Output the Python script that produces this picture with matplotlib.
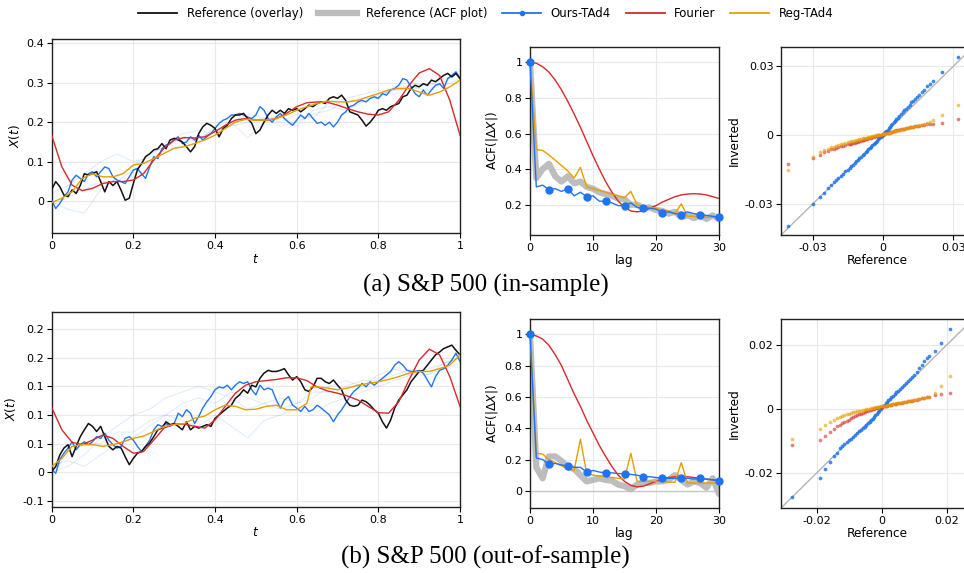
import numpy as np
import matplotlib.pyplot as plt
from matplotlib.lines import Line2D

# ---------------- data ----------------
t_fine = np.linspace(0, 1, 101)
t_coarse = np.linspace(0, 1, 41)
t_faint = np.linspace(0, 1, 26)

# (a) in-sample paths
ref_a = [0.030, 0.050, 0.037, 0.016, 0.012, 0.029, 0.020, 0.040, 0.070, 0.066,
         0.070, 0.075, 0.050, 0.024, 0.050, 0.040, 0.050, 0.028, 0.003, 0.008,
         0.045, 0.080, 0.095, 0.113, 0.120, 0.130, 0.133, 0.146, 0.133, 0.155,
         0.159, 0.155, 0.150, 0.138, 0.125, 0.138, 0.171, 0.188, 0.197, 0.192,
         0.184, 0.163, 0.184, 0.192, 0.209, 0.218, 0.218, 0.222, 0.209, 0.197,
         0.171, 0.180, 0.200, 0.218, 0.230, 0.222, 0.230, 0.222, 0.234, 0.230,
         0.234, 0.226, 0.234, 0.243, 0.239, 0.247, 0.251, 0.247, 0.260, 0.264,
         0.260, 0.268, 0.255, 0.226, 0.222, 0.218, 0.205, 0.190, 0.200, 0.213,
         0.230, 0.234, 0.230, 0.239, 0.243, 0.247, 0.264, 0.268, 0.285, 0.293,
         0.289, 0.297, 0.293, 0.306, 0.302, 0.310, 0.318, 0.323, 0.314, 0.323,
         0.310]
ours_a = [0.003, -0.018, -0.005, 0.012, 0.024, 0.054, 0.066, 0.058, 0.050, 0.070,
          0.075, 0.062, 0.075, 0.087, 0.083, 0.062, 0.054, 0.050, 0.045, 0.062,
          0.079, 0.083, 0.070, 0.058, 0.087, 0.113, 0.108, 0.133, 0.142, 0.146,
          0.155, 0.163, 0.146, 0.150, 0.163, 0.155, 0.167, 0.155, 0.163, 0.171,
          0.184, 0.197, 0.205, 0.209, 0.218, 0.218, 0.222, 0.218, 0.213, 0.209,
          0.218, 0.239, 0.230, 0.209, 0.200, 0.213, 0.222, 0.209, 0.200, 0.192,
          0.205, 0.218, 0.209, 0.222, 0.209, 0.197, 0.200, 0.192, 0.200, 0.188,
          0.200, 0.218, 0.226, 0.239, 0.243, 0.251, 0.255, 0.251, 0.260, 0.264,
          0.260, 0.272, 0.268, 0.281, 0.285, 0.293, 0.310, 0.306, 0.289, 0.272,
          0.264, 0.281, 0.268, 0.281, 0.293, 0.297, 0.285, 0.310, 0.318, 0.327,
          0.310]
fourier_a = [0.167, 0.087, 0.041, 0.027, 0.033, 0.045, 0.050, 0.050, 0.054, 0.070,
             0.104, 0.134, 0.155, 0.161, 0.160, 0.163, 0.176, 0.192, 0.205, 0.209,
             0.205, 0.205, 0.209, 0.222, 0.239, 0.249, 0.251, 0.250, 0.243, 0.234,
             0.226, 0.220, 0.218, 0.226, 0.255, 0.293, 0.324, 0.335, 0.318, 0.255,
             0.167]
reg_a = [-0.003, 0.008, 0.024, 0.058, 0.070, 0.062, 0.062, 0.070, 0.092, 0.096,
         0.108, 0.121, 0.134, 0.138, 0.146, 0.155, 0.167, 0.184, 0.200, 0.207,
         0.205, 0.205, 0.209, 0.218, 0.230, 0.239, 0.247, 0.253, 0.251, 0.251,
         0.255, 0.264, 0.272, 0.281, 0.285, 0.285, 0.276, 0.268, 0.276, 0.289,
         0.306]
faint_a = [
    [0.00, -0.02, -0.03, 0.03, 0.06, 0.09, 0.12, 0.14, 0.16, 0.15, 0.19, 0.20, 0.16,
     0.20, 0.22, 0.19, 0.23, 0.24, 0.23, 0.25, 0.27, 0.28, 0.29, 0.28, 0.30, 0.33],
    [0.02, 0.04, 0.07, 0.10, 0.12, 0.10, 0.11, 0.15, 0.17, 0.18, 0.17, 0.20, 0.22,
     0.21, 0.20, 0.22, 0.21, 0.25, 0.26, 0.27, 0.28, 0.27, 0.30, 0.29, 0.31, 0.32],
    [-0.01, 0.01, 0.03, 0.05, 0.05, 0.08, 0.10, 0.13, 0.14, 0.16, 0.18, 0.19, 0.20,
     0.21, 0.19, 0.20, 0.22, 0.23, 0.25, 0.26, 0.26, 0.29, 0.28, 0.30, 0.29, 0.31],
]

# (b) out-of-sample paths
ref_b = [0.001, 0.010, 0.030, 0.042, 0.048, 0.027, 0.045, 0.062, 0.074, 0.085,
         0.080, 0.071, 0.080, 0.062, 0.045, 0.039, 0.045, 0.042, 0.027, 0.013,
         0.024, 0.033, 0.036, 0.045, 0.051, 0.062, 0.074, 0.077, 0.088, 0.083,
         0.085, 0.080, 0.074, 0.088, 0.074, 0.080, 0.077, 0.080, 0.083, 0.080,
         0.094, 0.100, 0.106, 0.112, 0.117, 0.129, 0.135, 0.144, 0.138, 0.152,
         0.149, 0.164, 0.173, 0.178, 0.176, 0.176, 0.178, 0.181, 0.170, 0.161,
         0.167, 0.158, 0.144, 0.141, 0.149, 0.164, 0.164, 0.158, 0.155, 0.161,
         0.152, 0.144, 0.126, 0.117, 0.115, 0.117, 0.126, 0.123, 0.117, 0.109,
         0.103, 0.088, 0.077, 0.091, 0.112, 0.126, 0.135, 0.144, 0.158, 0.167,
         0.176, 0.178, 0.187, 0.196, 0.205, 0.210, 0.216, 0.219, 0.222, 0.213,
         0.205]
ours_b = [0.004, -0.002, 0.022, 0.033, 0.042, 0.053, 0.039, 0.048, 0.053, 0.048,
          0.053, 0.062, 0.059, 0.068, 0.056, 0.048, 0.042, 0.045, 0.059, 0.062,
          0.056, 0.045, 0.036, 0.045, 0.056, 0.074, 0.083, 0.080, 0.085, 0.080,
          0.085, 0.103, 0.097, 0.109, 0.103, 0.085, 0.097, 0.112, 0.123, 0.132,
          0.144, 0.149, 0.147, 0.152, 0.144, 0.152, 0.158, 0.155, 0.158, 0.144,
          0.135, 0.152, 0.144, 0.147, 0.144, 0.126, 0.112, 0.126, 0.132, 0.117,
          0.112, 0.106, 0.115, 0.106, 0.109, 0.117, 0.112, 0.106, 0.100, 0.088,
          0.100, 0.109, 0.120, 0.132, 0.141, 0.147, 0.155, 0.149, 0.158, 0.152,
          0.158, 0.164, 0.170, 0.176, 0.187, 0.193, 0.187, 0.178, 0.176, 0.176,
          0.178, 0.173, 0.161, 0.149, 0.167, 0.178, 0.181, 0.187, 0.196, 0.208,
          0.193]
fourier_b = [0.113, 0.074, 0.052, 0.048, 0.056, 0.065, 0.059, 0.045, 0.033, 0.036,
             0.056, 0.077, 0.084, 0.084, 0.080, 0.077, 0.091, 0.115, 0.138, 0.152,
             0.158, 0.160, 0.162, 0.165, 0.165, 0.160, 0.149, 0.142, 0.138, 0.133,
             0.126, 0.115, 0.104, 0.103, 0.123, 0.161, 0.196, 0.215, 0.205, 0.167,
             0.115]
reg_b_t = [0.0, 0.025, 0.05, 0.075, 0.1, 0.125, 0.15, 0.175, 0.2, 0.225,
           0.25, 0.275, 0.3, 0.325, 0.35, 0.375, 0.4, 0.425, 0.45, 0.475,
           0.5, 0.525, 0.55, 0.575, 0.6, 0.625, 0.635, 0.65, 0.675, 0.7,
           0.725, 0.75, 0.775, 0.8, 0.825, 0.85, 0.875, 0.9, 0.925, 0.95,
           0.975, 1.0]
reg_b = [0.010, 0.024, 0.045, 0.048, 0.048, 0.045, 0.048, 0.053, 0.059, 0.063,
         0.071, 0.080, 0.083, 0.085, 0.094, 0.098, 0.109, 0.117, 0.115, 0.109,
         0.110, 0.115, 0.117, 0.109, 0.109, 0.120, 0.149, 0.149, 0.147, 0.144,
         0.147, 0.152, 0.155, 0.158, 0.162, 0.167, 0.173, 0.176, 0.176, 0.181,
         0.187, 0.205]
faint_b = [
    [0.00, 0.01, 0.03, 0.06, 0.08, 0.10, 0.11, 0.13, 0.14, 0.15, 0.14, 0.13, 0.11,
     0.12, 0.13, 0.12, 0.13, 0.15, 0.16, 0.15, 0.17, 0.18, 0.17, 0.18, 0.19, 0.20],
    [0.01, 0.02, 0.01, 0.03, 0.05, 0.06, 0.08, 0.10, 0.09, 0.08, 0.10, 0.08, 0.06,
     0.09, 0.10, 0.11, 0.10, 0.12, 0.13, 0.14, 0.15, 0.16, 0.17, 0.17, 0.18, 0.19],
    [0.00, 0.03, 0.05, 0.05, 0.07, 0.07, 0.09, 0.10, 0.12, 0.13, 0.12, 0.14, 0.13,
     0.12, 0.11, 0.12, 0.14, 0.14, 0.15, 0.16, 0.16, 0.17, 0.18, 0.17, 0.19, 0.20],
]

# ACF of |dX|, lags 0..30
lags = np.arange(31)
acf_ref_a = [1.0, 0.35, 0.40, 0.43, 0.36, 0.33, 0.36, 0.32, 0.33, 0.30, 0.29,
             0.27, 0.26, 0.25, 0.235, 0.23, 0.20, 0.20, 0.18, 0.185, 0.17,
             0.165, 0.15, 0.16, 0.13, 0.14, 0.125, 0.14, 0.12, 0.14, 0.12]
acf_ours_a = [1.0, 0.30, 0.31, 0.285, 0.29, 0.275, 0.29, 0.25, 0.27, 0.245, 0.25,
              0.22, 0.22, 0.21, 0.195, 0.195, 0.21, 0.185, 0.18, 0.18, 0.175,
              0.155, 0.16, 0.15, 0.145, 0.16, 0.15, 0.145, 0.14, 0.135, 0.13]
acf_fourier_a = [1.0, 0.995, 0.975, 0.945, 0.90, 0.845, 0.78, 0.71, 0.635, 0.555, 0.475,
                 0.40, 0.33, 0.27, 0.22, 0.185, 0.165, 0.16, 0.165, 0.18, 0.195,
                 0.215, 0.23, 0.245, 0.255, 0.26, 0.262, 0.26, 0.255, 0.245, 0.235]
acf_reg_a = [1.0, 0.51, 0.505, 0.48, 0.45, 0.42, 0.39, 0.35, 0.41, 0.30, 0.29,
             0.28, 0.27, 0.26, 0.25, 0.24, 0.275, 0.20, 0.19, 0.185, 0.18,
             0.17, 0.165, 0.15, 0.205, 0.135, 0.135, 0.13, 0.13, 0.13, 0.125]

acf_ref_b = [1.0, 0.15, 0.08, 0.22, 0.22, 0.19, 0.15, 0.14, 0.10, 0.06, 0.07,
             0.08, 0.07, 0.065, 0.04, 0.03, 0.01, 0.04, 0.055, 0.05, 0.06,
             0.06, 0.07, 0.10, 0.07, 0.04, 0.06, 0.05, 0.02, 0.08, -0.02]
acf_ours_b = [1.0, 0.21, 0.20, 0.17, 0.175, 0.165, 0.16, 0.15, 0.15, 0.12, 0.13,
              0.12, 0.115, 0.115, 0.11, 0.11, 0.105, 0.10, 0.09, 0.09, 0.085,
              0.08, 0.08, 0.08, 0.08, 0.08, 0.075, 0.08, 0.075, 0.07, 0.06]
acf_fourier_b = [1.0, 0.99, 0.97, 0.93, 0.87, 0.80, 0.71, 0.62, 0.54, 0.45, 0.37,
                 0.29, 0.22, 0.155, 0.10, 0.06, 0.035, 0.025, 0.03, 0.045, 0.06,
                 0.075, 0.085, 0.09, 0.093, 0.09, 0.085, 0.08, 0.075, 0.07, 0.065]
acf_reg_b = [1.0, 0.24, 0.235, 0.20, 0.18, 0.16, 0.14, 0.13, 0.33, 0.11, 0.10,
             0.095, 0.09, 0.085, 0.08, 0.075, 0.24, 0.06, 0.06, 0.06, 0.06,
             0.06, 0.055, 0.055, 0.18, 0.05, 0.05, 0.05, 0.05, 0.05, 0.05]

# QQ: reference quantiles vs generated quantiles
qq_ref_a = [-0.0405, -0.0300, -0.0270, -0.0250, -0.0235, -0.0220, -0.0210, -0.0200, -0.0190, -0.0180,
            -0.0170, -0.0160, -0.0150, -0.0142, -0.0135, -0.0128, -0.0120, -0.0113, -0.0106, -0.0100,
            -0.0093, -0.0087, -0.0080, -0.0074, -0.0068, -0.0062, -0.0056, -0.0050, -0.0045, -0.0040,
            -0.0035, -0.0030, -0.0025, -0.0020, -0.0015, -0.0010, -0.0005, 0.0000, 0.0005, 0.0010,
            0.0015, 0.0020, 0.0025, 0.0030, 0.0035, 0.0040, 0.0046, 0.0052, 0.0058, 0.0064,
            0.0070, 0.0077, 0.0084, 0.0091, 0.0098, 0.0106, 0.0114, 0.0122, 0.0130, 0.0138,
            0.0146, 0.0155, 0.0165, 0.0175, 0.0188, 0.0200, 0.0215, 0.0253, 0.0320]
qq_ours_a = [-0.0394, -0.0300, -0.0268, -0.0250, -0.0232, -0.0217, -0.0206, -0.0196, -0.0186, -0.0176,
             -0.0167, -0.0158, -0.0150, -0.0142, -0.0135, -0.0128, -0.0121, -0.0114, -0.0107, -0.0101,
             -0.0094, -0.0088, -0.0081, -0.0075, -0.0069, -0.0062, -0.0056, -0.0050, -0.0044, -0.0039,
             -0.0033, -0.0028, -0.0023, -0.0018, -0.0013, -0.0008, -0.0003, 0.0002, 0.0007, 0.0013,
             0.0019, 0.0025, 0.0031, 0.0037, 0.0043, 0.0049, 0.0056, 0.0063, 0.0070, 0.0077,
             0.0084, 0.0092, 0.0100, 0.0108, 0.0116, 0.0125, 0.0134, 0.0143, 0.0151, 0.0159,
             0.0167, 0.0176, 0.0187, 0.0198, 0.0213, 0.0225, 0.0238, 0.0277, 0.0340]
qq_fourier_a = [-0.0125, -0.0100, -0.0085, -0.0073, -0.0067, -0.0062, -0.0058, -0.0055, -0.0052, -0.0049,
                -0.0046, -0.0043, -0.0040, -0.0038, -0.0036, -0.0034, -0.0032, -0.0030, -0.0028, -0.0026,
                -0.0024, -0.0022, -0.0020, -0.0018, -0.0016, -0.0014, -0.0012, -0.0010, -0.0009, -0.0007,
                -0.0005, -0.0004, -0.0002, -0.0001, 0.0001, 0.0002, 0.0003, 0.0005, 0.0006, 0.0008,
                0.0009, 0.0010, 0.0012, 0.0013, 0.0015, 0.0016, 0.0018, 0.0019, 0.0021, 0.0022,
                0.0024, 0.0026, 0.0027, 0.0029, 0.0031, 0.0032, 0.0034, 0.0036, 0.0037, 0.0039,
                0.0040, 0.0042, 0.0044, 0.0046, 0.0048, 0.0049, 0.0051, 0.0055, 0.0070]
qq_reg_a = [-0.0150, -0.0093, -0.0075, -0.0064, -0.0058, -0.0053, -0.0050, -0.0046, -0.0043, -0.0040,
            -0.0037, -0.0034, -0.0031, -0.0029, -0.0027, -0.0025, -0.0023, -0.0021, -0.0019, -0.0017,
            -0.0016, -0.0014, -0.0013, -0.0011, -0.0010, -0.0008, -0.0007, -0.0006, -0.0005, -0.0003,
            -0.0002, -0.0001, 0.0000, 0.0001, 0.0002, 0.0003, 0.0004, 0.0005, 0.0006, 0.0007,
            0.0008, 0.0010, 0.0011, 0.0012, 0.0014, 0.0015, 0.0017, 0.0018, 0.0020, 0.0021,
            0.0023, 0.0025, 0.0026, 0.0028, 0.0030, 0.0032, 0.0034, 0.0036, 0.0038, 0.0040,
            0.0042, 0.0044, 0.0046, 0.0049, 0.0052, 0.0056, 0.0066, 0.0089, 0.0132]

qq_ref_b = [-0.0276, -0.0190, -0.0174, -0.0160, -0.0148, -0.0139, -0.0130, -0.0122, -0.0115, -0.0108,
            -0.0101, -0.0094, -0.0088, -0.0082, -0.0076, -0.0070, -0.0064, -0.0058, -0.0053, -0.0048,
            -0.0043, -0.0038, -0.0033, -0.0028, -0.0024, -0.0020, -0.0016, -0.0012, -0.0008, -0.0004,
            0.0000, 0.0004, 0.0008, 0.0012, 0.0016, 0.0020, 0.0024, 0.0029, 0.0034, 0.0039,
            0.0044, 0.0049, 0.0055, 0.0061, 0.0067, 0.0073, 0.0079, 0.0086, 0.0093, 0.0100,
            0.0107, 0.0115, 0.0122, 0.0130, 0.0138, 0.0146, 0.0163, 0.0182, 0.0208]
qq_ours_b = [-0.0275, -0.0217, -0.0187, -0.0165, -0.0148, -0.0137, -0.0124, -0.0117, -0.0110, -0.0104,
             -0.0099, -0.0094, -0.0088, -0.0082, -0.0077, -0.0071, -0.0066, -0.0061, -0.0056, -0.0051,
             -0.0046, -0.0041, -0.0036, -0.0031, -0.0026, -0.0021, -0.0016, -0.0011, -0.0006, -0.0001,
             0.0004, 0.0009, 0.0013, 0.0018, 0.0022, 0.0027, 0.0031, 0.0036, 0.0041, 0.0046,
             0.0051, 0.0056, 0.0062, 0.0068, 0.0074, 0.0080, 0.0086, 0.0093, 0.0100, 0.0106,
             0.0114, 0.0126, 0.0138, 0.0150, 0.0157, 0.0165, 0.0180, 0.0204, 0.0250]
qq_fourier_b = [-0.0114, -0.0097, -0.0086, -0.0073, -0.0062, -0.0055, -0.0050, -0.0046, -0.0042, -0.0038,
                -0.0034, -0.0030, -0.0027, -0.0024, -0.0021, -0.0018, -0.0015, -0.0012, -0.0010, -0.0008,
                -0.0006, -0.0004, -0.0003, -0.0001, 0.0000, 0.0001, 0.0002, 0.0003, 0.0004, 0.0005,
                0.0006, 0.0007, 0.0008, 0.0009, 0.0010, 0.0011, 0.0012, 0.0013, 0.0014, 0.0015,
                0.0016, 0.0017, 0.0018, 0.0019, 0.0020, 0.0021, 0.0023, 0.0024, 0.0025, 0.0027,
                0.0028, 0.0030, 0.0032, 0.0034, 0.0036, 0.0038, 0.0042, 0.0047, 0.0049]
qq_reg_b = [-0.0094, -0.0063, -0.0051, -0.0042, -0.0034, -0.0029, -0.0025, -0.0022, -0.0019, -0.0017,
            -0.0015, -0.0013, -0.0011, -0.0010, -0.0008, -0.0007, -0.0006, -0.0004, -0.0003, -0.0002,
            -0.0001, 0.0000, 0.0001, 0.0002, 0.0003, 0.0004, 0.0005, 0.0005, 0.0006, 0.0007,
            0.0008, 0.0009, 0.0010, 0.0010, 0.0011, 0.0012, 0.0013, 0.0014, 0.0015, 0.0016,
            0.0017, 0.0018, 0.0019, 0.0020, 0.0021, 0.0022, 0.0023, 0.0024, 0.0026, 0.0027,
            0.0029, 0.0030, 0.0032, 0.0034, 0.0036, 0.0038, 0.0050, 0.0071, 0.0103]

# ticks / labels
path_xticks = [0, 0.2, 0.4, 0.6, 0.8, 1.0]
path_xticklabels = ["0", "0.2", "0.4", "0.6", "0.8", "1"]
path_yticks_a = [0, 0.1, 0.2, 0.3, 0.4]
path_yticklabels_a = ["0", "0.1", "0.2", "0.3", "0.4"]
path_yticks_b = [-0.05, 0, 0.05, 0.1, 0.15, 0.2, 0.25]
path_yticklabels_b = ["-0.1", "0", "0.1", "0.1", "0.1", "0.2", "0.2"]
acf_yticks_a = [0.2, 0.4, 0.6, 0.8, 1.0]
acf_yticklabels_a = ["0.2", "0.4", "0.6", "0.8", "1"]
acf_yticks_b = [0, 0.2, 0.4, 0.6, 0.8, 1.0]
acf_yticklabels_b = ["0", "0.2", "0.4", "0.6", "0.8", "1"]
qq_ticks_a = [-0.03, 0, 0.03]
qq_ticklabels_a = ["-0.03", "0", "0.03"]
qq_ticks_b = [-0.02, 0, 0.02]
qq_ticklabels_b = ["-0.02", "0", "0.02"]

C_REF = "#111111"
C_GRAY = "#bdbdbd"
C_OURS = "#1f74f2"
C_FOURIER = "#d8282b"
C_REG = "#e69f00"

plt.rcParams["font.family"] = "DejaVu Sans"
TICK_FS = 8
LAB_FS = 8.7


def style(ax):
    ax.tick_params(labelsize=TICK_FS, length=3.5, width=0.8, pad=2)
    ax.grid(True, color="#e8e8e8", linewidth=0.8, zorder=0)
    ax.set_axisbelow(True)
    for s in ax.spines.values():
        s.set_linewidth(1.0)
        s.set_color("#222222")


def plot_paths(ax, ref, ours, fourier, reg_t, reg, faint, ylim, yticks, yticklabels):
    for f in faint:
        ax.plot(t_faint, f, color=C_OURS, lw=0.7, alpha=0.15, zorder=2)
    ax.plot(t_fine, ours, color=C_OURS, lw=1.0, zorder=3)
    ax.plot(t_fine, ref, color=C_REF, lw=1.1, zorder=4)
    ax.plot(t_coarse, fourier, color=C_FOURIER, lw=1.0, zorder=5)
    ax.plot(reg_t, reg, color=C_REG, lw=1.0, zorder=5)
    ax.set_xlim(0, 1)
    ax.set_ylim(*ylim)
    ax.set_xticks(path_xticks)
    ax.set_xticklabels(path_xticklabels)
    ax.set_yticks(yticks)
    ax.set_yticklabels(yticklabels)
    ax.set_xlabel("$t$", fontsize=LAB_FS, labelpad=1)
    ax.set_ylabel("$X(t)$", fontsize=LAB_FS, labelpad=3)
    style(ax)


def plot_acf(ax, ref, ours, fourier, reg, ylim, yticks, yticklabels, zero_line):
    if zero_line:
        ax.axhline(0, color="#c8c8c8", lw=1.0, zorder=1)
    ax.plot(lags, ref, color=C_GRAY, lw=4.5, solid_capstyle="round", zorder=2)
    ax.plot(lags, fourier, color=C_FOURIER, lw=1.0, zorder=3)
    ax.plot(lags, reg, color=C_REG, lw=1.0, zorder=3)
    ax.plot(lags, ours, color=C_OURS, lw=1.0, marker="o", markersize=5,
            markevery=3, zorder=4, clip_on=False)
    ax.set_xlim(0, 30)
    ax.set_ylim(*ylim)
    ax.set_xticks([0, 10, 20, 30])
    ax.set_yticks(yticks)
    ax.set_yticklabels(yticklabels)
    ax.set_xlabel("lag", fontsize=LAB_FS, labelpad=1)
    ax.set_ylabel(r"ACF($|\Delta X|$)", fontsize=LAB_FS, labelpad=3)
    style(ax)


def plot_qq(ax, xr, ours, fourier, reg, lim, ticks, ticklabels):
    ax.axline((0, 0), slope=1, color="#b5b5b5", lw=1.0, zorder=1)
    ax.scatter(xr, ours, s=7, color=C_OURS, alpha=0.85, linewidths=0, zorder=3)
    ax.scatter(xr, fourier, s=7, color=C_FOURIER, alpha=0.6, linewidths=0, zorder=4)
    ax.scatter(xr, reg, s=7, color=C_REG, alpha=0.6, linewidths=0, zorder=5)
    ax.set_xlim(*lim)
    ax.set_ylim(*lim)
    ax.set_xticks(ticks)
    ax.set_xticklabels(ticklabels)
    ax.set_yticks(ticks)
    ax.set_yticklabels(ticklabels)
    ax.set_xlabel("Reference", fontsize=LAB_FS, labelpad=1)
    ax.set_ylabel("Inverted", fontsize=LAB_FS, labelpad=3)
    style(ax)


fig = plt.figure(figsize=(9.64, 5.73), dpi=100)

ax_pa = fig.add_axes([0.0536, 0.5925, 0.4236, 0.3389])
ax_aa = fig.add_axes([0.5498, 0.5899, 0.1961, 0.3281])
ax_qa = fig.add_axes([0.8102, 0.5899, 0.1992, 0.3281])
ax_pb = fig.add_axes([0.0536, 0.1152, 0.4236, 0.3403])
ax_ab = fig.add_axes([0.5498, 0.1134, 0.1961, 0.3298])
ax_qb = fig.add_axes([0.8102, 0.1134, 0.1992, 0.3298])

plot_paths(ax_pa, ref_a, ours_a, fourier_a, t_coarse, reg_a, faint_a,
           (-0.081, 0.409), path_yticks_a, path_yticklabels_a)
plot_paths(ax_pb, ref_b, ours_b, fourier_b, reg_b_t, reg_b, faint_b,
           (-0.061, 0.28), path_yticks_b, path_yticklabels_b)
plot_acf(ax_aa, acf_ref_a, acf_ours_a, acf_fourier_a, acf_reg_a,
         (0.03, 1.086), acf_yticks_a, acf_yticklabels_a, False)
plot_acf(ax_ab, acf_ref_b, acf_ours_b, acf_fourier_b, acf_reg_b,
         (-0.11, 1.098), acf_yticks_b, acf_yticklabels_b, True)
plot_qq(ax_qa, qq_ref_a, qq_ours_a, qq_fourier_a, qq_reg_a,
        (-0.0435, 0.0385), qq_ticks_a, qq_ticklabels_a)
plot_qq(ax_qb, qq_ref_b, qq_ours_b, qq_fourier_b, qq_reg_b,
        (-0.031, 0.028), qq_ticks_b, qq_ticklabels_b)

fig.text(0.504, 0.5026, "(a) S&P 500 (in-sample)", ha="center", va="center",
         family="Liberation Serif", fontsize=18)
fig.text(0.504, 0.0279, "(b) S&P 500 (out-of-sample)", ha="center", va="center",
         family="Liberation Serif", fontsize=18)

handles = [
    Line2D([], [], color=C_REF, lw=1.3),
    Line2D([], [], color=C_GRAY, lw=4.5),
    Line2D([], [], color=C_OURS, lw=1.3, marker="o", markersize=3),
    Line2D([], [], color=C_FOURIER, lw=1.3),
    Line2D([], [], color=C_REG, lw=1.3),
]
labels = ["Reference (overlay)", "Reference (ACF plot)", "Ours-TAd4", "Fourier", "Reg-TAd4"]
fig.legend(handles, labels, loc="center", bbox_to_anchor=(0.504, 0.977), ncol=5,
           frameon=False, fontsize=8.5, handlelength=3.3, handletextpad=0.8,
           columnspacing=1.25)

fig.savefig("out.png", dpi=100)
